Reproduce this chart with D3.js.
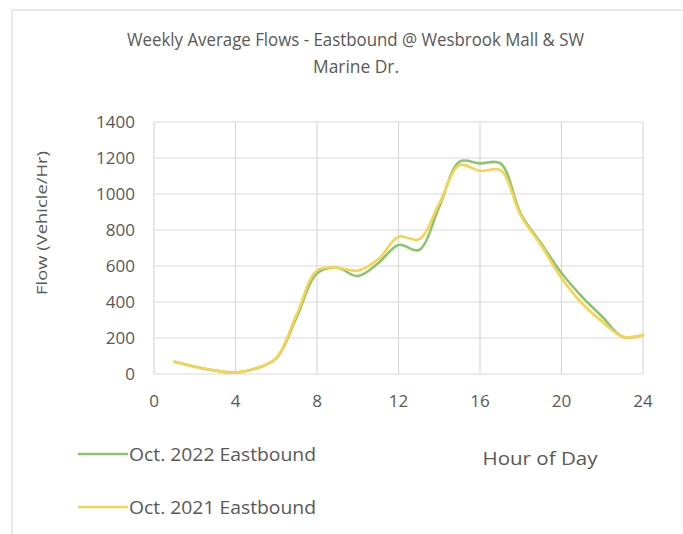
<!DOCTYPE html>
<html>
<head>
<meta charset="utf-8">
<script src="https://cdn.jsdelivr.net/npm/d3@7"></script>
<style>
  body { margin: 0; background: #fff; }
  text { font-family: "Open Sans", "Liberation Sans", sans-serif; fill: #595959; }
</style>
</head>
<body>
<div id="chart"></div>
<script>
// données (débit moyen par heure)
var hours = [1, 2, 3, 4, 5, 6, 7, 8, 9, 10, 11, 12, 13, 14, 15, 16, 17, 18, 19, 20, 21, 22, 23, 24];
var flow2022 = [68, 41, 19, 8, 31, 87, 315, 560, 590, 544, 615, 717, 689, 930, 1180, 1170, 1170, 890, 725, 561, 430, 318, 207, 216];
var flow2021 = [68, 41, 19, 8, 31, 90, 330, 575, 590, 574, 637, 763, 748, 948, 1161, 1128, 1133, 880, 715, 533, 393, 291, 207, 216];
var seriesNames = ["Oct. 2022 Eastbound", "Oct. 2021 Eastbound"];
var seriesColors = ["#8cc572", "#f7d352"];
var xTicks = [0, 4, 8, 12, 16, 20, 24];
var yTicks = [0, 200, 400, 600, 800, 1000, 1200, 1400];

var width = 683,
    height = 534;

var svg = d3.select("#chart")
    .append("svg")
    .attr("width", width)
    .attr("height", height);

// cadre du graphique (bord gris clair)
svg.append("path")
    .attr("d", "M12,534 V10 H683")
    .attr("fill", "none")
    .attr("stroke", "#e3e3e3")
    .attr("stroke-width", 1.5);

var x = d3.scaleLinear().domain([0, 24]).range([154, 643]);
var y = d3.scaleLinear().domain([0, 1400]).range([374, 122]);

// grille
var g = svg.append("g");
g.selectAll(".hgrid")
    .data(yTicks)
    .join("line")
    .attr("x1", x(0)).attr("x2", x(24))
    .attr("y1", d => y(d)).attr("y2", d => y(d))
    .attr("stroke", "#d9d9d9").attr("stroke-width", 1.2);
g.selectAll(".vgrid")
    .data(xTicks)
    .join("line")
    .attr("x1", d => x(d)).attr("x2", d => x(d))
    .attr("y1", y(0)).attr("y2", y(1400))
    .attr("stroke", "#d9d9d9").attr("stroke-width", 1.2);

// libellés des axes
svg.selectAll(".ylab")
    .data(yTicks)
    .join("text")
    .attr("x", 135)
    .attr("y", d => y(d) + 6)
    .attr("text-anchor", "end")
    .style("font-size", "17px")
    .text(d => d);

svg.selectAll(".xlab")
    .data(xTicks)
    .join("text")
    .attr("x", d => x(d))
    .attr("y", 407)
    .attr("text-anchor", "middle")
    .style("font-size", "17px")
    .text(d => d);

// courbes
var line = d3.line()
    .x((d, i) => x(hours[i]))
    .y(d => y(d))
    .curve(d3.curveCatmullRom.alpha(0.5));

[flow2022, flow2021].forEach(function (s, i) {
    svg.append("path")
        .attr("d", line(s))
        .attr("fill", "none")
        .attr("stroke", seriesColors[i])
        .attr("stroke-width", 2.6)
        .attr("stroke-linecap", "round");
});

// titre (resserré comme du Calibri)
svg.append("text")
    .attr("x", 127).attr("y", 46)
    .style("font-size", "17.5px")
    .attr("textLength", 457)
    .attr("lengthAdjust", "spacingAndGlyphs")
    .text("Weekly Average Flows - Eastbound @ Wesbrook Mall & SW");
svg.append("text")
    .attr("x", 313).attr("y", 73)
    .style("font-size", "17.5px")
    .attr("textLength", 86)
    .attr("lengthAdjust", "spacingAndGlyphs")
    .text("Marine Dr.");

// titre axe y
svg.append("text")
    .attr("transform", "translate(47,223) rotate(-90)")
    .attr("text-anchor", "middle")
    .style("font-size", "15px")
    .attr("textLength", 144)
    .attr("lengthAdjust", "spacingAndGlyphs")
    .text("Flow (Vehicle/Hr)");

// titre axe x
svg.append("text")
    .attr("x", 540).attr("y", 465)
    .attr("text-anchor", "middle")
    .style("font-size", "19px")
    .attr("textLength", 115)
    .attr("lengthAdjust", "spacingAndGlyphs")
    .text("Hour of Day");

// légende
seriesNames.forEach(function (n, i) {
    var ly = 454 + i * 53;
    svg.append("line")
        .attr("x1", 78).attr("x2", 128)
        .attr("y1", ly).attr("y2", ly)
        .attr("stroke", seriesColors[i])
        .attr("stroke-width", 2.6);
    svg.append("text")
        .attr("x", 129).attr("y", ly + 7)
        .style("font-size", "18px")
        .attr("textLength", 187)
        .attr("lengthAdjust", "spacingAndGlyphs")
        .text(n);
});
</script>
</body>
</html>
